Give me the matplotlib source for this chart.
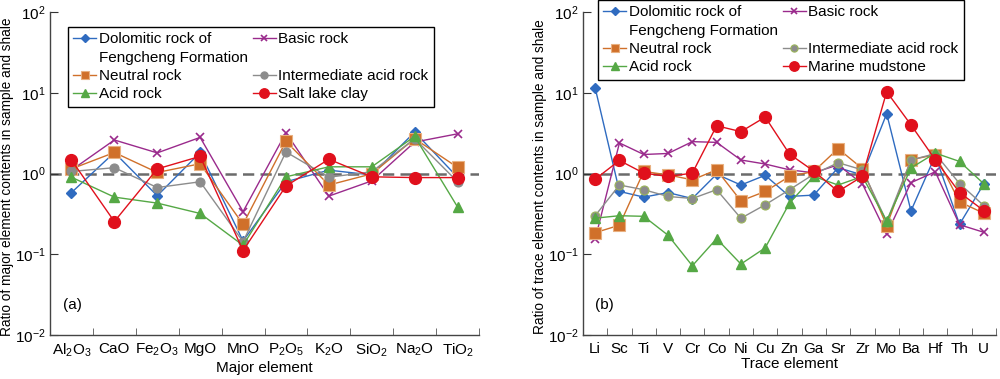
import matplotlib
matplotlib.use("Agg")
import matplotlib.pyplot as plt
from matplotlib.lines import Line2D
import numpy as np

plt.rcParams['font.family'] = ['Liberation Sans', 'DejaVu Sans']
plt.rcParams['mathtext.fontset'] = 'custom'
plt.rcParams['mathtext.rm'] = 'Liberation Sans'
plt.rcParams['mathtext.it'] = 'Liberation Sans:italic'

major_elements = ['Al$_2$O$_3$', 'CaO', 'Fe$_2$O$_3$', 'MgO', 'MnO', 'P$_2$O$_5$',
                  'K$_2$O', 'SiO$_2$', 'Na$_2$O', 'TiO$_2$']
maj_dolomitic = [0.58, 1.82, 0.53, 1.82, 0.146, 0.79, 1.10, 0.96, 3.26, 0.90]
maj_basic = [1.10, 2.60, 1.80, 2.80, 0.337, 3.20, 0.525, 0.81, 2.45, 3.10]
maj_neutral = [1.14, 1.82, 1.03, 1.32, 0.235, 2.50, 0.72, 0.99, 2.70, 1.19]
maj_intermediate = [1.06, 1.18, 0.67, 0.79, 0.143, 1.85, 0.90, 1.05, 2.70, 0.79]
maj_acid = [0.90, 0.51, 0.43, 0.32, 0.129, 0.91, 1.21, 1.21, 2.88, 0.385]
maj_saltlake = [1.47, 0.254, 1.14, 1.63, 0.111, 0.70, 1.50, 0.91, 0.89, 0.89]

trace_elements = ['Li', 'Sc', 'Ti', 'V', 'Cr', 'Co', 'Ni', 'Cu', 'Zn', 'Ga', 'Sr',
                  'Zr', 'Mo', 'Ba', 'Hf', 'Th', 'U']
tr_dolomitic = [11.5, 0.60, 0.51, 0.58, 0.49, 0.98, 0.72, 0.95, 0.52, 0.54, 1.18,
                0.96, 5.5, 0.344, 1.66, 0.235, 0.745]
tr_basic = [0.153, 2.39, 1.72, 1.77, 2.48, 2.43, 1.47, 1.31, 1.11, 1.02, 1.28,
            0.745, 0.178, 0.77, 1.05, 0.232, 0.187]
tr_neutral = [0.185, 0.229, 1.06, 0.96, 0.835, 1.11, 0.458, 0.60, 0.92, 1.06, 2.03,
              1.15, 0.226, 1.48, 1.71, 0.445, 0.322]
tr_intermediate = [0.30, 0.72, 0.63, 0.52, 0.49, 0.63, 0.279, 0.41, 0.63, 0.98, 1.36,
                   1.11, 0.254, 1.47, 1.76, 0.75, 0.40]
tr_acid = [0.28, 0.30, 0.295, 0.172, 0.072, 0.156, 0.0756, 0.12, 0.43, 0.92, 0.72,
           0.92, 0.258, 1.17, 1.79, 1.41, 0.745]
tr_marine = [0.85, 1.45, 1.01, 0.92, 1.01, 3.9, 3.3, 5.0, 1.74, 1.07, 0.60,
             0.92, 10.3, 4.0, 1.48, 0.58, 0.347]

C_BLUE = '#2f6bc0'
C_PURPLE = '#9a2a8c'
C_ORANGE = '#d0702a'
C_GRAY = '#8c8c8c'
C_GREEN = '#55a845'
C_RED = '#e0101c'

def styles(third_edge):
    return [
        dict(color=C_BLUE, marker='D', ms=5, mfc=C_BLUE, mec=C_BLUE),
        dict(color=C_PURPLE, marker='x', ms=6, mfc=C_PURPLE, mec=C_PURPLE, mew=1.2),
        dict(color=C_ORANGE, marker='s', ms=8, mfc=C_ORANGE, mec='#e8b080', mew=0.8),
        dict(color=C_GRAY, marker='o', ms=6.5, mfc=C_GRAY, mec=third_edge, mew=0.8),
        dict(color=C_GREEN, marker='^', ms=7.5, mfc=C_GREEN, mec=C_GREEN),
        dict(color=C_RED, marker='o', ms=8.5, mfc=C_RED, mec=C_RED),
    ]

fig = plt.figure(figsize=(10, 3.79), dpi=100)
H = 379.0
W = 1000.0
ax_a = fig.add_axes([50 / W, 1 - 335 / H, 429 / W, 323 / H])
ax_b = fig.add_axes([583 / W, 1 - 335 / H, 413 / W, 323 / H])

labels_second_line = 'Fengcheng Formation'

def draw(ax, cats, series, labels, third_edge, ylabel, xlabel, panel, leg_anchor,
         ylabel_x):
    x = np.arange(len(cats))
    st = styles(third_edge)
    handles = []
    for vals, s, lab in zip(series, st, labels):
        ln, = ax.plot(x, vals, lw=1.0, label=lab, **s)
        handles.append(ln)
    ax.axhline(1.0, color='#6b6b6b', lw=1.8, ls=(0, (4.5, 2.5)), zorder=0.5)
    ax.set_yscale('log')
    ax.set_ylim(0.01, 100)
    ax.set_xlim(-0.5, len(cats) - 0.5)
    ax.set_yticks([0.01, 0.1, 1, 10, 100])
    ax.set_yticklabels(['10$^{-2}$', '10$^{-1}$', '10$^{0}$', '10$^{1}$', '10$^{2}$'])
    ax.yaxis.set_minor_locator(matplotlib.ticker.NullLocator())
    ax.set_xticks(x)
    ax.set_xticklabels(cats)
    ax.set_xticks(np.arange(len(cats) + 1) - 0.5, minor=True)
    ax.tick_params(axis='x', which='major', length=0, labelsize=11, pad=5)
    ax.tick_params(axis='x', which='minor', length=5, direction='in', color='#555555')
    ax.tick_params(axis='y', which='major', length=6, direction='in', labelsize=11,
                   color='#333333', pad=3)
    for sp in ['top', 'right']:
        ax.spines[sp].set_visible(False)
    for sp in ['left', 'bottom']:
        ax.spines[sp].set_color('#444444')
        ax.spines[sp].set_linewidth(1.0)
    ax.set_ylabel(ylabel, fontsize=9.8)
    ax.yaxis.set_label_coords(ylabel_x, 0.49)
    ax.set_xlabel(xlabel, fontsize=11, labelpad=1)
    ax.text(0.03, 0.08, panel, transform=ax.transAxes, fontsize=11)
    blank = Line2D([], [], linestyle='none', marker=None)
    h = handles
    leg_handles = [h[0], blank, h[2], h[4], h[1], blank, h[3], h[5]]
    leg_labels = [labels[0], labels_second_line, labels[2], labels[4],
                  labels[1], '', labels[3], labels[5]]
    leg = ax.legend(leg_handles, leg_labels, ncol=2, loc='upper left',
                    bbox_to_anchor=leg_anchor, borderaxespad=0, fontsize=11,
                    frameon=True, fancybox=False, framealpha=1, edgecolor='black',
                    handlelength=1.5, handletextpad=0.15, columnspacing=0.35,
                    labelspacing=0.28, borderpad=0.35, markerscale=0.8)
    leg.get_frame().set_linewidth(1.0)

draw(ax_a, major_elements,
     [maj_dolomitic, maj_basic, maj_neutral, maj_intermediate, maj_acid, maj_saltlake],
     ['Dolomitic rock of', 'Basic rock', 'Neutral rock', 'Intermediate acid rock',
      'Acid rock', 'Salt lake clay'],
     C_GRAY,
     'Ratio of major element contents in sample and shale', 'Major element', '(a)',
     ((68 - 50) / 429, 1 - (27 - 12) / 323), (14 - 50) / 429)

draw(ax_b, trace_elements,
     [tr_dolomitic, tr_basic, tr_neutral, tr_intermediate, tr_acid, tr_marine],
     ['Dolomitic rock of', 'Basic rock', 'Neutral rock', 'Intermediate acid rock',
      'Acid rock', 'Marine mudstone'],
     '#9bb55a',
     'Ratio of trace element contents in sample and shale', 'Trace element', '(b)',
     ((598 - 583) / 413, 1 + 12 / 323), (547 - 583) / 413)

fig.savefig('out.png', dpi=100)
